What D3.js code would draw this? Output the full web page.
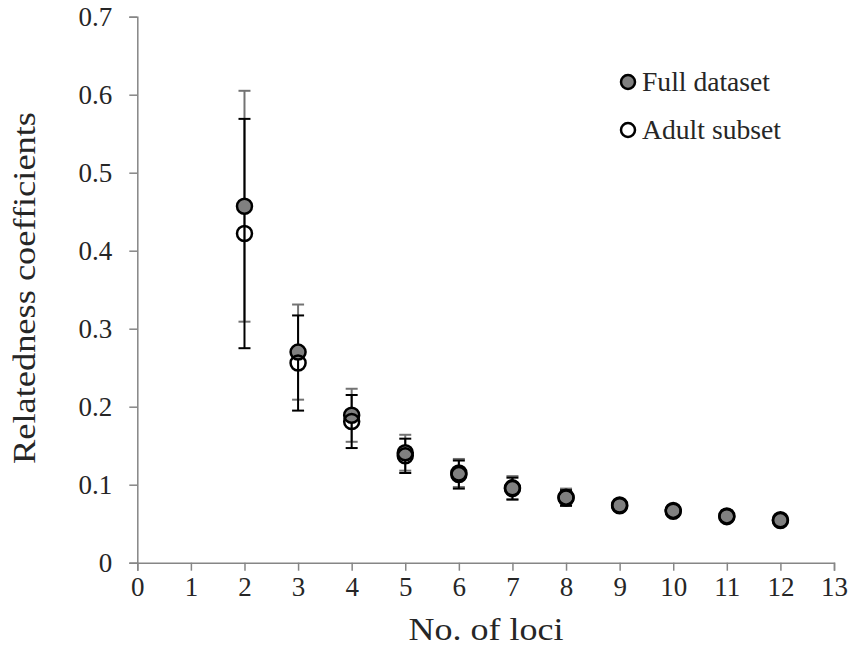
<!DOCTYPE html>
<html><head><meta charset="utf-8">
<script src="https://cdn.jsdelivr.net/npm/d3@7/dist/d3.min.js"></script>
<style>body{margin:0;background:#fff}svg{display:block}text{font-family:"Liberation Serif","Times New Roman",serif}</style>
</head><body>
<svg id="chart" width="851" height="648"></svg>
<script>
const loci = [2,3,4,5,6,7,8,9,10,11,12];
const fullMean = [0.457,0.270,0.189,0.141,0.115,0.096,0.084,0.074,0.067,0.060,0.055];
const fullErr  = [0.148,0.061,0.034,0.023,0.018,0.015,0.011,0.006,0.005,0.004,0.003];
const adultMean = [0.422,0.256,0.181,0.137,0.113,0.095,0.083,0.073,0.066,0.059,0.054];
const adultErr  = [0.147,0.061,0.034,0.022,0.018,0.014,0.010,0.006,0.005,0.004,0.003];
const xTicks = d3.range(0,14);
const yTicks = [0,0.1,0.2,0.3,0.4,0.5,0.6,0.7];
const seriesNames = ["Full dataset","Adult subset"];

const svg = d3.select("#chart");
const x = d3.scaleLinear().domain([0,13]).range([137.3,834]);
const y = d3.scaleLinear().domain([0,0.7]).range([562.7,16.7]);
const axisColor = "#868686", textColor = "#262626", fs = 27, tfs = 32;

const yAxis = svg.append("g").attr("transform",`translate(${x(0)},0)`)
  .call(d3.axisLeft(y).tickValues(yTicks).tickSize(8).tickPadding(17).tickFormat(d=>d===0?"0":d3.format(".1f")(d)));
const xAxis = svg.append("g").attr("transform",`translate(0,${y(0)})`)
  .call(d3.axisBottom(x).tickValues(xTicks).tickSize(8).tickPadding(6).tickFormat(d3.format("d")));
[xAxis,yAxis].forEach(g=>{
  g.selectAll("path,line").attr("stroke",axisColor).attr("stroke-width",1.5);
  g.selectAll("text").attr("fill",textColor).attr("font-size",fs).attr("font-family","Liberation Serif");
});

svg.append("text").attr("x",486).attr("y",640).attr("text-anchor","middle")
  .attr("font-size",tfs).attr("fill",textColor)
  .attr("textLength",155).attr("lengthAdjust","spacingAndGlyphs").text("No. of loci");
svg.append("text").attr("transform",`translate(35,288) rotate(-90)`).attr("text-anchor","middle")
  .attr("font-size",tfs).attr("fill",textColor)
  .attr("textLength",352).attr("lengthAdjust","spacingAndGlyphs").text("Relatedness coefficients");

function errorBars(means, errs, color){
  const g = svg.append("g").attr("stroke",color).attr("stroke-width",2);
  loci.forEach((l,i)=>{
    const cx = x(l), top = y(means[i]+errs[i]), bot = y(means[i]-errs[i]);
    g.append("line").attr("x1",cx).attr("x2",cx).attr("y1",top).attr("y2",bot);
    g.append("line").attr("x1",cx-6).attr("x2",cx+6).attr("y1",top).attr("y2",top);
    g.append("line").attr("x1",cx-6).attr("x2",cx+6).attr("y1",bot).attr("y2",bot);
  });
}
errorBars(fullMean, fullErr, "#737373");
errorBars(adultMean, adultErr, "#000");

svg.append("g").selectAll("circle").data(loci).join("circle")
  .attr("cx",d=>x(d)).attr("cy",(d,i)=>y(fullMean[i])).attr("r",7.5)
  .attr("fill","#808080").attr("stroke","#000").attr("stroke-width",2.5);
svg.append("g").selectAll("circle").data(loci).join("circle")
  .attr("cx",d=>x(d)).attr("cy",(d,i)=>y(adultMean[i])).attr("r",7.5)
  .attr("fill","none").attr("stroke","#000").attr("stroke-width",2.5);

const leg = svg.append("g");
[0,1].forEach(i=>{
  const ly = 82 + i*48;
  leg.append("circle").attr("cx",628).attr("cy",ly).attr("r",7)
    .attr("fill",i===0?"#808080":"#fff").attr("stroke","#000").attr("stroke-width",2.5);
  leg.append("text").attr("x",642).attr("y",ly+9).attr("font-size",fs).attr("fill",textColor)
    .attr("textLength",i===0?128:139).attr("lengthAdjust","spacingAndGlyphs").text(seriesNames[i]);
});
</script>
</body></html>
